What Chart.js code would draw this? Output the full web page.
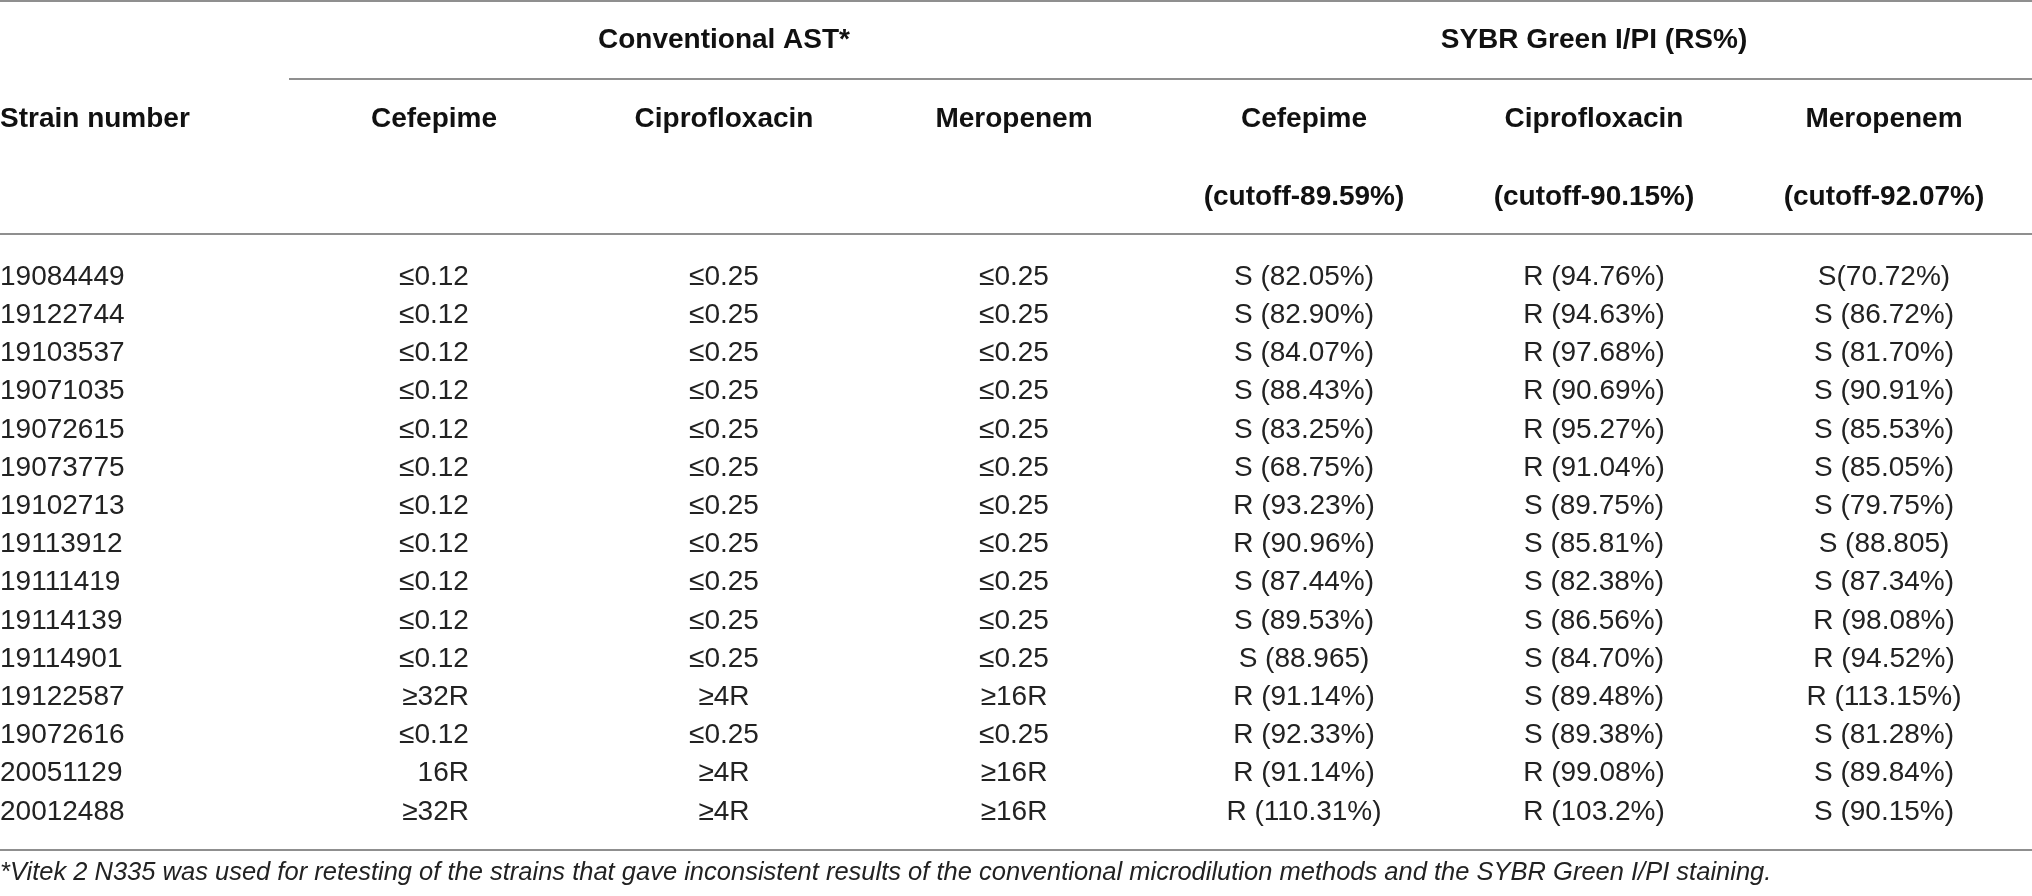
<!DOCTYPE html>
<html>
<head>
<meta charset="utf-8">
<script src="https://cdn.jsdelivr.net/npm/chart.js@4.4.1/dist/chart.umd.min.js"></script>
<style>
  html, body { margin: 0; padding: 0; background: #ffffff; }
  #wrap { width: 2032px; height: 896px; position: relative; }
</style>
</head>
<body>
<div id="wrap"><canvas id="ast-table"></canvas></div>
<script>
/* Bảng so sánh AST thông thường và SYBR Green I/PI */

const strains = ['19084449', '19122744', '19103537', '19071035', '19072615', '19073775', '19102713',
    '19113912', '19111419', '19114139', '19114901', '19122587', '19072616', '20051129', '20012488'];

const columnKeys = ['conv-cef', 'conv-cip', 'conv-mer', 'sybr-cef', 'sybr-cip', 'sybr-mer'];
const columnTitles = ['Cefepime', 'Ciprofloxacin', 'Meropenem', 'Cefepime', 'Ciprofloxacin', 'Meropenem'];
const cutoffs = ['', '', '', '(cutoff-89.59%)', '(cutoff-90.15%)', '(cutoff-92.07%)'];
const groupTitles = ['Conventional AST*', 'SYBR Green I/PI (RS%)'];
const groupColumns = [[0, 2], [3, 5]];
const firstHeader = 'Strain number';
const footnote = '*Vitek 2 N335 was used for retesting of the strains that gave inconsistent results of the conventional microdilution methods and the SYBR Green I/PI staining.';

const convCefepime = ['≤0.12', '≤0.12', '≤0.12', '≤0.12', '≤0.12', '≤0.12', '≤0.12', '≤0.12',
    '≤0.12', '≤0.12', '≤0.12', '≥32R', '≤0.12', '16R', '≥32R'];
const convCipro = ['≤0.25', '≤0.25', '≤0.25', '≤0.25', '≤0.25', '≤0.25', '≤0.25', '≤0.25',
    '≤0.25', '≤0.25', '≤0.25', '≥4R', '≤0.25', '≥4R', '≥4R'];
const convMero = ['≤0.25', '≤0.25', '≤0.25', '≤0.25', '≤0.25', '≤0.25', '≤0.25', '≤0.25',
    '≤0.25', '≤0.25', '≤0.25', '≥16R', '≤0.25', '≥16R', '≥16R'];
const sybrCefepime = ['S (82.05%)', 'S (82.90%)', 'S (84.07%)', 'S (88.43%)', 'S (83.25%)', 'S (68.75%)',
    'R (93.23%)', 'R (90.96%)', 'S (87.44%)', 'S (89.53%)', 'S (88.965)', 'R (91.14%)', 'R (92.33%)',
    'R (91.14%)', 'R (110.31%)'];
const sybrCipro = ['R (94.76%)', 'R (94.63%)', 'R (97.68%)', 'R (90.69%)', 'R (95.27%)', 'R (91.04%)',
    'S (89.75%)', 'S (85.81%)', 'S (82.38%)', 'S (86.56%)', 'S (84.70%)', 'S (89.48%)', 'S (89.38%)',
    'R (99.08%)', 'R (103.2%)'];
const sybrMero = ['S(70.72%)', 'S (86.72%)', 'S (81.70%)', 'S (90.91%)', 'S (85.53%)', 'S (85.05%)',
    'S (79.75%)', 'S (88.805)', 'S (87.34%)', 'R (98.08%)', 'R (94.52%)', 'R (113.15%)', 'S (81.28%)',
    'S (89.84%)', 'S (90.15%)'];

const columnValues = [convCefepime, convCipro, convMero, sybrCefepime, sybrCipro, sybrMero];
// cột Cefepime (AST) được canh phải như bản gốc
const columnAlign = ['right', 'center', 'center', 'center', 'center', 'center'];

const FONT = '"Liberation Sans", Arial, Helvetica, sans-serif';
const TEXT_COLOR = '#222222';
const HEAD_COLOR = '#111111';
const RULE_COLOR = '#8f8f8f';

/* Vẽ tiêu đề, đường kẻ và nội dung ô */
const tablePlugin = {
    id: 'tablePlugin',
    afterDraw(chart) {
        const ctx = chart.ctx;
        const area = chart.chartArea;
        const xScale = chart.scales.x;
        const yScale = chart.scales.y;
        const W = chart.width;

        const rule = (x1, x2, y) => {
            ctx.save();
            ctx.strokeStyle = RULE_COLOR;
            ctx.lineWidth = 2;
            ctx.beginPath();
            ctx.moveTo(x1, y);
            ctx.lineTo(x2, y);
            ctx.stroke();
            ctx.restore();
        };

        const text = (str, x, y, font, color, align) => {
            ctx.save();
            ctx.font = font;
            ctx.fillStyle = color;
            ctx.textAlign = align;
            ctx.textBaseline = 'middle';
            ctx.fillText(str, x, y);
            ctx.restore();
        };

        const bold = 'bold 28px ' + FONT;
        const body = '28px ' + FONT;

        // các đường kẻ ngang
        rule(0, W, 1);
        rule(xScale.left, W, area.top - 179);
        rule(0, W, area.top - 24);
        rule(0, W, area.bottom + 19);

        // tiêu đề nhóm
        groupTitles.forEach((title, i) => {
            const a = xScale.getPixelForValue(groupColumns[i][0]);
            const b = xScale.getPixelForValue(groupColumns[i][1]);
            text(title, (a + b) / 2, area.top - 218, bold, HEAD_COLOR, 'center');
        });

        // tiêu đề cột
        text(firstHeader, yScale.left, area.top - 139, bold, HEAD_COLOR, 'left');
        columnTitles.forEach((title, i) => {
            const x = xScale.getPixelForValue(i);
            text(title, x, area.top - 139, bold, HEAD_COLOR, 'center');
            if (cutoffs[i]) text(cutoffs[i], x, area.top - 61, bold, HEAD_COLOR, 'center');
        });

        // nội dung ô: lấy vị trí từ các điểm của dataset
        ctx.save();
        ctx.font = body;
        chart.data.datasets.forEach((ds, i) => {
            const meta = chart.getDatasetMeta(i);
            let shift = 0;
            if (columnAlign[i] === 'right') {
                shift = Math.max(...columnValues[i].map(v => ctx.measureText(v).width)) / 2;
            }
            meta.data.forEach((pt, j) => {
                text(columnValues[i][j], pt.x + shift, pt.y, body, TEXT_COLOR, columnAlign[i]);
            });
        });
        ctx.restore();

        // chú thích
        text(footnote, 0, area.bottom + 42, 'italic 25.5px ' + FONT, TEXT_COLOR, 'left');
    }
};

const datasets = columnKeys.map((key, i) => ({
    label: key,
    data: strains.map(s => ({ x: key, y: s })),
    pointRadius: 0,
    pointHoverRadius: 0,
    showLine: false
}));

new Chart(document.getElementById('ast-table').getContext('2d'), {
    type: 'scatter',
    data: { datasets: datasets },
    options: {
        responsive: true,
        maintainAspectRatio: false,
        animation: false,
        events: [],
        layout: { padding: { top: 258, bottom: 65, left: 0, right: 3 } },
        scales: {
            x: {
                type: 'category',
                labels: columnKeys,
                offset: true,
                display: false
            },
            y: {
                type: 'category',
                labels: strains,
                offset: true,
                position: 'left',
                afterFit(scale) { scale.width = 289; },
                grid: { display: false, drawTicks: false },
                border: { display: false },
                ticks: {
                    autoSkip: false,
                    crossAlign: 'far',
                    padding: 0,
                    color: TEXT_COLOR,
                    font: { family: FONT, size: 28 }
                }
            }
        },
        plugins: {
            legend: { display: false },
            tooltip: { enabled: false }
        }
    },
    plugins: [tablePlugin]
});
</script>
</body>
</html>
